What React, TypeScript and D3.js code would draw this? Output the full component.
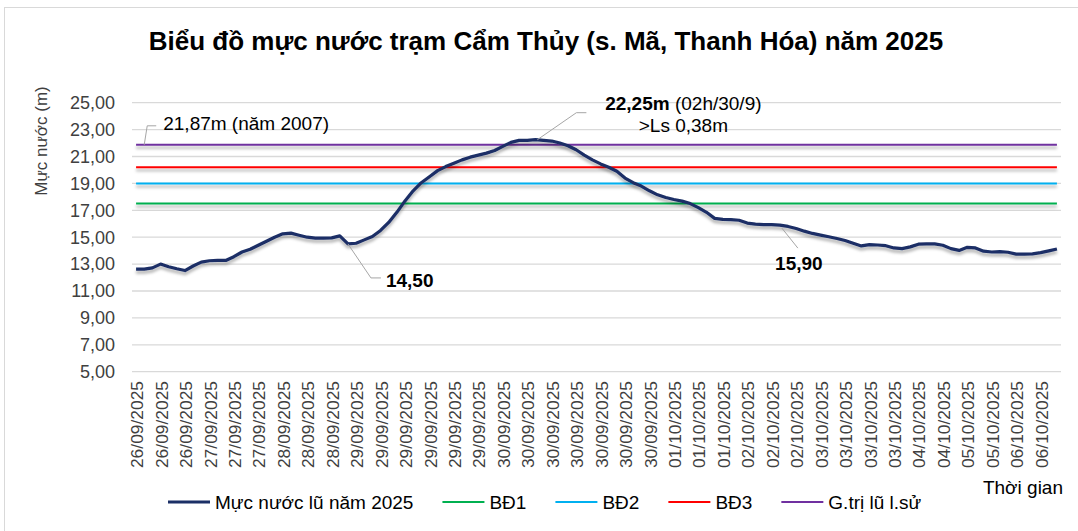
import { useEffect, useRef } from "react";
import * as d3 from "d3";

// every 3rd observation carries a date label
const tickLabels = [
  "26/09/2025", "26/09/2025", "26/09/2025",
  "27/09/2025", "27/09/2025", "27/09/2025",
  "28/09/2025", "28/09/2025", "28/09/2025",
  "29/09/2025", "29/09/2025", "29/09/2025", "29/09/2025", "29/09/2025", "29/09/2025",
  "30/09/2025", "30/09/2025", "30/09/2025", "30/09/2025", "30/09/2025", "30/09/2025", "30/09/2025",
  "01/10/2025", "01/10/2025", "01/10/2025",
  "02/10/2025", "02/10/2025", "02/10/2025",
  "03/10/2025", "03/10/2025", "03/10/2025", "03/10/2025",
  "04/10/2025", "04/10/2025",
  "05/10/2025", "05/10/2025",
  "06/10/2025", "06/10/2025",
];
const LABEL_EVERY = 3;

// Mực nước lũ năm 2025 (m)
const waterLevel = [
  12.63, 12.63, 12.72, 13.0, 12.8, 12.65, 12.52, 12.86, 13.15, 13.25,
  13.27, 13.27, 13.55, 13.9, 14.1, 14.4, 14.7, 15.0, 15.25, 15.3,
  15.15, 15.0, 14.93, 14.93, 14.95, 15.1, 14.5, 14.55, 14.8, 15.05,
  15.5, 16.1, 16.85, 17.7, 18.45, 19.05, 19.5, 19.95, 20.25, 20.5,
  20.75, 20.95, 21.1, 21.25, 21.45, 21.75, 22.05, 22.2, 22.2, 22.25,
  22.2, 22.15, 22.0, 21.8, 21.5, 21.1, 20.75, 20.45, 20.2, 19.9,
  19.4, 19.05, 18.8, 18.45, 18.15, 17.95, 17.8, 17.68, 17.5, 17.2,
  16.85, 16.4, 16.32, 16.3, 16.26, 16.05, 15.97, 15.94, 15.94, 15.9,
  15.8, 15.65, 15.45, 15.28, 15.15, 15.03, 14.9, 14.75, 14.55, 14.35,
  14.45, 14.42, 14.37, 14.2, 14.15, 14.28, 14.48, 14.5, 14.5, 14.4,
  14.15, 14.02, 14.25, 14.2, 13.96, 13.9, 13.93, 13.88, 13.74, 13.74,
  13.76, 13.85, 13.98, 14.12,
];

const alarmLevels = [
  { name: "BĐ1", value: 17.5, color: "#00B050" },
  { name: "BĐ2", value: 19.0, color: "#00B0F0" },
  { name: "BĐ3", value: 20.2, color: "#FF0000" },
  { name: "G.trị lũ l.sử", value: 21.87, color: "#7030A0" },
];

const yTicks = [5, 7, 9, 11, 13, 15, 17, 19, 21, 23, 25];

const W = 1078;
const H = 531;
const FONT = "'Liberation Sans', Arial, sans-serif";
const NAVY = "#1B2F66";

export default function App() {
  const svgRef = useRef<SVGSVGElement>(null);

  useEffect(() => {
    if (!svgRef.current) return;
    const svg = d3.select(svgRef.current);
    svg.selectAll("*").remove();

    const plot = { left: 132, right: 1061, top: 102.7, bottom: 371.7 };
    const fmt = d3.formatLocale({
      decimal: ",",
      thousands: ".",
      grouping: [3],
      currency: ["", ""],
    }).format(".2f");

    const idx = d3.range(waterLevel.length);
    const x = d3
      .scalePoint<number>()
      .domain(idx)
      .range([plot.left, plot.right])
      .padding(0.5);
    const y = d3.scaleLinear().domain([5, 25]).range([plot.bottom, plot.top]);

    // shadow like the Excel line effect (user space so flat lines keep it)
    const defs = svg.append("defs");
    const f = defs
      .append("filter")
      .attr("id", "shadow")
      .attr("filterUnits", "userSpaceOnUse")
      .attr("x", 0)
      .attr("y", 0)
      .attr("width", W)
      .attr("height", H);
    f.append("feDropShadow")
      .attr("dx", 0)
      .attr("dy", 3)
      .attr("stdDeviation", 1.6)
      .attr("flood-color", "#000")
      .attr("flood-opacity", 0.3);

    svg
      .append("rect")
      .attr("width", W)
      .attr("height", H)
      .attr("fill", "#fff");
    svg
      .append("rect")
      .attr("x", 4.5)
      .attr("y", 7.5)
      .attr("width", W)
      .attr("height", H)
      .attr("fill", "none")
      .attr("stroke", "#d9d9d9");

    // title
    svg
      .append("text")
      .attr("x", 546)
      .attr("y", 50)
      .attr("text-anchor", "middle")
      .attr("font-family", FONT)
      .attr("font-size", 26)
      .attr("font-weight", "bold")
      .attr("fill", "#000")
      .text("Biểu đồ mực nước trạm Cẩm Thủy (s. Mã, Thanh Hóa) năm 2025");

    // gridlines + y ticks
    const grid = svg.append("g");
    yTicks.forEach((t) => {
      grid
        .append("line")
        .attr("x1", plot.left)
        .attr("x2", plot.right)
        .attr("y1", y(t))
        .attr("y2", y(t))
        .attr("stroke", "#d9d9d9")
        .attr("stroke-width", 1.3);
      grid
        .append("text")
        .attr("x", 115)
        .attr("y", y(t))
        .attr("dy", "0.35em")
        .attr("text-anchor", "end")
        .attr("font-family", FONT)
        .attr("font-size", 18)
        .attr("fill", "#404040")
        .text(fmt(t));
    });

    svg
      .append("text")
      .attr("transform", `translate(41,141) rotate(-90)`)
      .attr("dy", "0.35em")
      .attr("text-anchor", "middle")
      .attr("font-family", FONT)
      .attr("font-size", 17)
      .attr("fill", "#404040")
      .text("Mực nước (m)");

    // x labels
    tickLabels.forEach((lab, k) => {
      const xi = x(k * LABEL_EVERY)!;
      svg
        .append("text")
        .attr("transform", `translate(${xi + 1},381) rotate(-90)`)
        .attr("dy", "0.35em")
        .attr("text-anchor", "end")
        .attr("font-family", FONT)
        .attr("font-size", 17.4)
        .attr("fill", "#404040")
        .text(lab);
    });

    svg
      .append("text")
      .attr("x", 1063)
      .attr("y", 487)
      .attr("dy", "0.35em")
      .attr("text-anchor", "end")
      .attr("font-family", FONT)
      .attr("font-size", 19)
      .attr("fill", "#000")
      .text("Thời gian");

    // alarm / historic level lines
    alarmLevels.forEach((a) => {
      const ln = d3
        .line<number>()
        .x((i) => x(i)!)
        .y(() => y(a.value));
      svg
        .append("path")
        .datum(idx)
        .attr("d", ln)
        .attr("fill", "none")
        .attr("stroke", a.color)
        .attr("stroke-width", 2)
        .attr("filter", "url(#shadow)");
    });

    // main series
    const mainLine = d3
      .line<number>()
      .x((i) => x(i)!)
      .y((i) => y(waterLevel[i]));
    svg
      .append("path")
      .datum(idx)
      .attr("d", mainLine)
      .attr("fill", "none")
      .attr("stroke", NAVY)
      .attr("stroke-width", 3.2)
      .attr("stroke-linejoin", "round")
      .attr("filter", "url(#shadow)");

    // callouts
    const leader = (pts: [number, number][]) =>
      svg
        .append("path")
        .attr("d", d3.line()(pts))
        .attr("fill", "none")
        .attr("stroke", "#a6a6a6")
        .attr("stroke-width", 1);

    const peakI = d3.maxIndex(waterLevel);
    const px = x(peakI)!;
    const py = y(waterLevel[peakI]);
    leader([
      [px + 2, py],
      [px + 41, py - 27],
      [px + 51, py - 27],
    ]);
    const peakText = svg
      .append("text")
      .attr("x", px + 148)
      .attr("y", py - 36)
      .attr("dy", "0.35em")
      .attr("text-anchor", "middle")
      .attr("font-family", FONT)
      .attr("font-size", 19)
      .attr("fill", "#000");
    peakText
      .append("tspan")
      .attr("font-weight", "bold")
      .text(fmt(waterLevel[peakI]) + "m");
    peakText.append("tspan").text(" (02h/30/9)");
    svg
      .append("text")
      .attr("x", px + 148)
      .attr("y", py - 14)
      .attr("dy", "0.35em")
      .attr("text-anchor", "middle")
      .attr("font-family", FONT)
      .attr("font-size", 19)
      .attr("fill", "#000")
      .text(">Ls 0,38m");

    const lowI = 26;
    const lx = x(lowI)!;
    const ly = y(waterLevel[lowI]);
    leader([
      [lx, ly],
      [lx + 23, ly + 34],
      [lx + 33, ly + 34],
    ]);
    svg
      .append("text")
      .attr("x", lx + 38)
      .attr("y", ly + 36)
      .attr("dy", "0.35em")
      .attr("font-family", FONT)
      .attr("font-size", 19)
      .attr("font-weight", "bold")
      .attr("fill", "#000")
      .text(fmt(waterLevel[lowI]));

    const fallI = 79;
    const fx = x(fallI)!;
    const fy = y(waterLevel[fallI]);
    leader([
      [fx + 2, fy + 3],
      [fx + 18, fy + 23],
    ]);
    svg
      .append("text")
      .attr("x", fx + 19)
      .attr("y", fy + 38)
      .attr("dy", "0.35em")
      .attr("text-anchor", "middle")
      .attr("font-family", FONT)
      .attr("font-size", 19)
      .attr("font-weight", "bold")
      .attr("fill", "#000")
      .text(fmt(waterLevel[fallI]));

    const hist = alarmLevels[3];
    const hx = x(1)!;
    const hy = y(hist.value);
    leader([
      [hx, hy],
      [hx + 3, hy - 19],
      [hx + 12, hy - 19],
    ]);
    svg
      .append("text")
      .attr("x", hx + 19)
      .attr("y", hy - 21)
      .attr("dy", "0.35em")
      .attr("font-family", FONT)
      .attr("font-size", 19)
      .attr("fill", "#000")
      .text("21,87m (năm 2007)");

    // legend
    const legendItems = [
      { name: "Mực nước lũ năm 2025", color: NAVY, width: 3.2 },
      ...alarmLevels.map((a) => ({ name: a.name, color: a.color, width: 2 })),
    ];
    const legend = svg.append("g").attr("transform", "translate(168,502)");
    let cx = 0;
    legendItems.forEach((it) => {
      legend
        .append("line")
        .attr("x1", cx)
        .attr("x2", cx + 42)
        .attr("stroke", it.color)
        .attr("stroke-width", it.width);
      const t = legend
        .append("text")
        .attr("x", cx + 47)
        .attr("dy", "0.35em")
        .attr("font-family", FONT)
        .attr("font-size", 19)
        .attr("fill", "#000")
        .text(it.name);
      const tw = (t.node() as SVGTextElement).getComputedTextLength();
      cx += 47 + tw + 29;
    });
  }, []);

  return (
    <svg
      ref={svgRef}
      width={W}
      height={H}
      style={{ position: "absolute", left: 0, top: 0 }}
    />
  );
}
